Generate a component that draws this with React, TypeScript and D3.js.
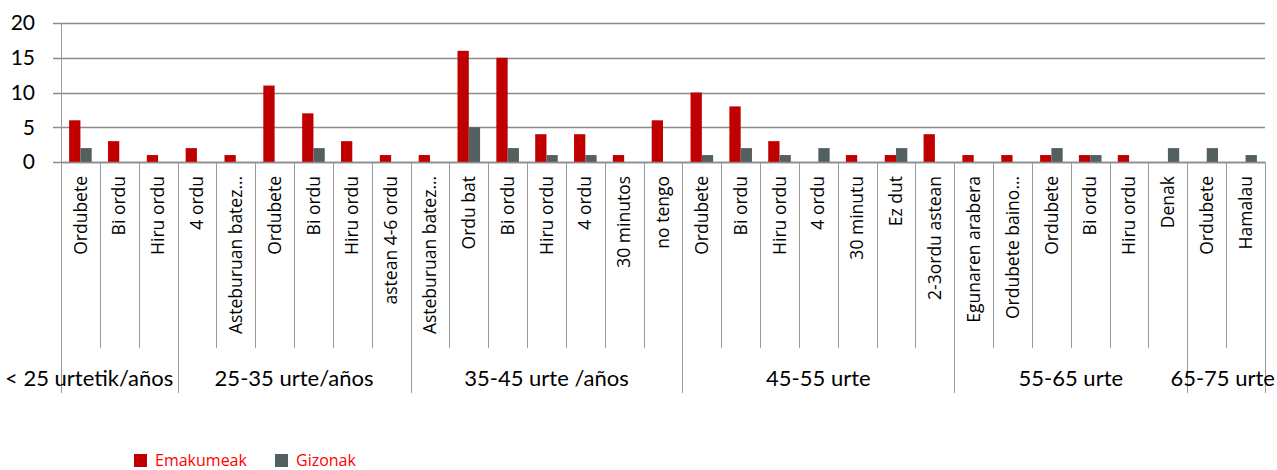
import React, { useEffect, useRef } from 'react';
import * as d3 from 'd3';

const categories = [
  'Ordubete', 'Bi ordu', 'Hiru ordu',
  '4 ordu', 'Asteburuan batez…', 'Ordubete', 'Bi ordu', 'Hiru ordu', 'astean 4-6 ordu',
  'Asteburuan batez…', 'Ordu bat', 'Bi ordu', 'Hiru ordu', '4 ordu', '30 minutos', 'no tengo',
  'Ordubete', 'Bi ordu', 'Hiru ordu', '4 ordu', '30 minutu', 'Ez dut', '2-3ordu astean',
  'Egunaren arabera', 'Ordubete baino…', 'Ordubete', 'Bi ordu', 'Hiru ordu', 'Denak',
  'Ordubete', 'Hamalau',
];
const groupNames = ['< 25 urtetik/años', '25-35 urte/años', '35-45 urte /años', '45-55 urte', '55-65 urte', '65-75 urte'];
const groupSizes = [3, 6, 7, 7, 6, 2];

const emakumeak = [6, 3, 1, 2, 1, 11, 7, 3, 1, 1, 16, 15, 4, 4, 1, 6, 10, 8, 3, 0, 1, 1, 4, 1, 1, 1, 1, 1, 0, 0, 0];
const gizonak = [2, 0, 0, 0, 0, 0, 2, 0, 0, 0, 5, 2, 1, 1, 0, 0, 1, 2, 1, 2, 0, 2, 0, 0, 0, 2, 1, 0, 2, 2, 1];

const seriesNames = ['Emakumeak', 'Gizonak'];
const seriesColors = ['#c00000', '#545f5f'];
const yTicks = [0, 5, 10, 15, 20];

export default function App() {
  const ref = useRef<HTMLDivElement>(null);

  useEffect(() => {
    if (!ref.current) return;
    document.body.style.margin = '0';
    d3.select(ref.current).selectAll('*').remove();

    const width = 1277;
    const height = 470;
    const left = 61, right = 1265, top = 23, bottom = 162;
    const catBottom = 348, groupBottom = 393;

    const svg = d3.select(ref.current)
      .append('svg')
      .attr('width', width)
      .attr('height', height)
      .style('display', 'block')
      .style('background', '#fff');

    const idx = categories.map((_, i) => i);
    const x = d3.scaleBand<number>().domain(idx).range([left, right]).paddingInner(0).paddingOuter(0);
    const x1 = d3.scaleBand<number>().domain([0, 1]).range([0, x.bandwidth()]).paddingInner(0).paddingOuter(0.72);
    const y = d3.scaleLinear().domain([0, 20]).range([bottom, top]);

    // gridlines + tick labels
    svg.append('g').selectAll('line')
      .data(yTicks)
      .join('line')
      .attr('x1', left - 8).attr('x2', right)
      .attr('y1', d => Math.round(y(d)) + 0.5).attr('y2', d => Math.round(y(d)) + 0.5)
      .attr('stroke', '#8c8c8c').attr('stroke-width', 1.5);

    svg.append('g').selectAll('text')
      .data(yTicks)
      .join('text')
      .attr('x', 35).attr('y', d => y(d))
      .attr('dy', '0.35em')
      .attr('text-anchor', 'end')
      .attr('font-family', 'Lato, sans-serif')
      .attr('font-size', 21)
      .attr('fill', '#000')
      .text(d => d);

    // bars
    const series = [emakumeak, gizonak];
    series.forEach((vals, s) => {
      svg.append('g').selectAll('rect')
        .data(vals)
        .join('rect')
        .attr('x', (_, i) => x(i)! + x1(s)!)
        .attr('width', x1.bandwidth())
        .attr('y', d => y(d))
        .attr('height', d => y(0) - y(d))
        .attr('fill', seriesColors[s]);
    });

    // category dividers
    const groupStarts: number[] = [];
    let acc = 0;
    groupSizes.forEach(n => { groupStarts.push(acc); acc += n; });
    const boundaries = d3.range(categories.length + 1);
    svg.append('g').selectAll('line')
      .data(boundaries)
      .join('line')
      .attr('x1', d => Math.round(d === categories.length ? right : x(d)!) + 0.5)
      .attr('x2', d => Math.round(d === categories.length ? right : x(d)!) + 0.5)
      .attr('y1', d => (d === 0 ? top : bottom))
      .attr('y2', d => (groupStarts.includes(d) || d === categories.length ? groupBottom : catBottom))
      .attr('stroke', '#9a9a9a').attr('stroke-width', 1);

    // zero axis line on top
    svg.append('line')
      .attr('x1', left).attr('x2', right)
      .attr('y1', Math.round(y(0)) + 0.5).attr('y2', Math.round(y(0)) + 0.5)
      .attr('stroke', '#8c8c8c').attr('stroke-width', 1.5);

    // category labels
    svg.append('g').selectAll('text')
      .data(categories)
      .join('text')
      .attr('transform', (_, i) => `translate(${x(i)! + x.bandwidth() / 2},${bottom + 14}) rotate(-90)`)
      .attr('text-anchor', 'end')
      .attr('dy', '0.35em')
      .attr('font-family', '"Open Sans", sans-serif')
      .attr('font-size', 17.5)
      .attr('fill', '#000')
      .text(d => d);

    // group labels (an overflowing label is pulled toward the left edge)
    const groupText = svg.append('g').selectAll('text')
      .data(groupNames)
      .join('text')
      .attr('y', 378)
      .attr('dy', '0.35em')
      .attr('text-anchor', 'middle')
      .attr('font-family', 'Lato, sans-serif')
      .attr('font-size', 22)
      .attr('fill', '#000')
      .text(d => d);
    groupText.each(function (_, g) {
      const node = this as SVGTextElement;
      const w = node.getComputedTextLength();
      const start = x(groupStarts[g])!;
      const end = start + groupSizes[g] * x.step();
      let cx = (start + end) / 2;
      if (g === 0 && w > end - start) cx = 5 + w / 2;
      cx = Math.min(cx, width - 2 - w / 2);
      d3.select(node).attr('x', cx);
    });

    // legend
    const legendX = [134, 275];
    const lg = svg.append('g');
    seriesNames.forEach((name, s) => {
      lg.append('rect')
        .attr('x', legendX[s]).attr('y', 454)
        .attr('width', 13).attr('height', 13)
        .attr('fill', seriesColors[s]);
      lg.append('text')
        .attr('x', legendX[s] + 21).attr('y', 460.5)
        .attr('dy', '0.35em')
        .attr('font-family', '"Open Sans", sans-serif')
        .attr('font-size', 16)
        .attr('fill', '#ff0000')
        .text(name);
    });
  }, []);

  return <div ref={ref} style={{ width: 1277, height: 470 }}></div>;
}
